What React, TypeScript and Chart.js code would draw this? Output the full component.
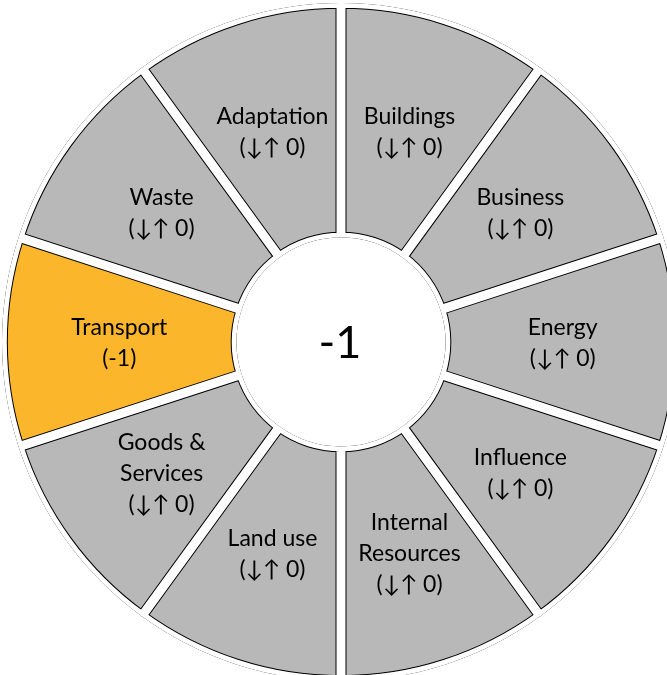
import React, { useEffect, useRef } from "react";
import { Chart, registerables } from "chart.js";

Chart.register(...registerables);

// Segments clockwise from 12 o'clock
const categories = [
  "Buildings",
  "Business",
  "Energy",
  "Influence",
  "Internal Resources",
  "Land use",
  "Goods & Services",
  "Transport",
  "Waste",
  "Adaptation",
];
const labelLines = [
  ["Buildings"],
  ["Business"],
  ["Energy"],
  ["Influence"],
  ["Internal", "Resources"],
  ["Land use"],
  ["Goods &", "Services"],
  ["Transport"],
  ["Waste"],
  ["Adaptation"],
];
const weights = [1, 1, 1, 1, 1, 1, 1, 1, 1, 1];
const scores = [0, 0, 0, 0, 0, 0, 0, -1, 0, 0];
const totalScore = "-1";

const GRAY = "#B8B8B8";
const ORANGE = "#FBB62C";
const FONT = "Lato, 'Noto Sans', sans-serif";

const scoreText = (s: number) => (s === 0 ? "(↓↑ 0)" : `(${s})`);

const overlayPlugin = {
  id: "overlay",
  afterDatasetsDraw(chart: any) {
    const ctx = chart.ctx;
    const meta = chart.getDatasetMeta(0);
    // white gaps, leaving a thin dark outline on each segment
    meta.data.forEach((arc: any) => {
      const ghost = Object.create(arc);
      ghost.options = {
        ...arc.options,
        backgroundColor: "rgba(0,0,0,0)",
        borderColor: "#ffffff",
        borderWidth: 4.5,
      };
      ghost.draw(ctx);
    });
    // labels
    ctx.save();
    ctx.fillStyle = "#000";
    ctx.textAlign = "center";
    ctx.textBaseline = "middle";
    ctx.font = `23px ${FONT}`;
    meta.data.forEach((arc: any, i: number) => {
      const p = arc.getCenterPoint();
      const lines = [...labelLines[i], scoreText(scores[i])];
      const lh = 31;
      lines.forEach((t, j) => {
        ctx.fillText(t, p.x, p.y + 1 + (j - (lines.length - 1) / 2) * lh);
      });
    });
    // center total
    const a0 = meta.data[0];
    ctx.font = `45px ${FONT}`;
    ctx.fillText(totalScore, a0.x - 1, a0.y + 1);
    ctx.restore();
  },
};

export default function App() {
  const ref = useRef<HTMLCanvasElement>(null);
  useEffect(() => {
    if (!ref.current) return;
    const chart = new Chart(ref.current, {
      type: "doughnut",
      data: {
        labels: categories,
        datasets: [
          {
            data: weights,
            backgroundColor: scores.map((s) => (s < 0 ? ORANGE : GRAY)),
            borderColor: "#000000",
            borderWidth: 5.5,
            borderAlign: "inner",
            borderJoinStyle: "miter",
            hoverOffset: 0,
            offset: 0,
          } as any,
        ],
      },
      options: {
        responsive: false,
        animation: false,
        events: [],
        cutout: 104.5,
        layout: { padding: 0 },
        plugins: {
          legend: { display: false },
          tooltip: { enabled: false },
        },
      } as any,
      plugins: [overlayPlugin],
    });
    return () => chart.destroy();
  }, []);
  return (
    <div
      style={{
        position: "fixed",
        left: 0,
        top: 0,
        width: 667,
        height: 675,
        overflow: "hidden",
        background: "#fff",
      }}
    >
      <canvas
        ref={ref}
        width={678}
        height={678}
        style={{ position: "absolute", left: 2, top: 3, width: 678, height: 678 }}
      />
    </div>
  );
}
